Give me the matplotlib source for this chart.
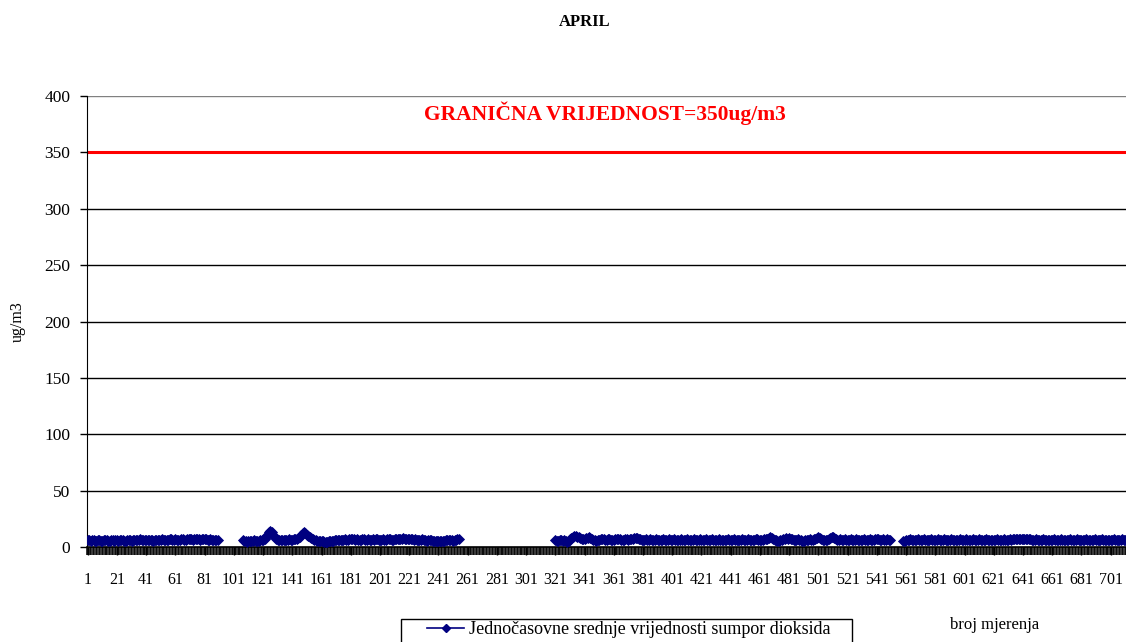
import numpy as np
import matplotlib
matplotlib.use("Agg")
import matplotlib.pyplot as plt
from matplotlib.patches import Rectangle

title = "APRIL"
limit_value = 350
limit_label = "GRANIČNA VRIJEDNOST=350ug/m3"
series_label = "Jednočasovne srednje vrijednosti sumpor dioksida"
y_label = "ug/m3"
x_label = "broj mjerenja"
y_ticks = [0, 50, 100, 150, 200, 250, 300, 350, 400]
x_tick_labels = list(range(1, 702, 20))

N = None
seg_1_90 = [6,6,5,6,6,5,5,6,6,5,5,6,6,6,5,5,6,6,5,6,
            6,5,6,6,6,5,5,6,6,6,5,6,6,6,6,6,7,6,6,6,
            6,6,6,6,6,5,6,6,6,6,6,7,6,6,6,6,7,7,6,6,
            7,6,6,6,7,7,6,6,7,7,7,7,6,7,7,7,7,6,7,7,
            7,7,6,6,7,6,6,6,6,6]
gap_91_106 = [N]*16
seg_107_255 = [6,5,5,4,5,5,5,5,6,5,5,5,6,6,
               6,7,9,11,13,14,13,11,9,7,6,6,6,6,6,6,6,6,7,6,
               6,7,7,7,8,9,11,12,13,12,11,10,9,8,7,6,6,5,5,5,
               5,5,4,4,4,5,5,5,5,6,6,6,6,6,6,6,7,6,6,7,
               7,7,7,6,7,6,6,6,7,7,6,6,7,6,6,7,6,7,7,6,
               6,6,7,6,6,7,7,7,6,6,7,7,7,7,7,7,8,7,7,7,
               7,7,7,6,7,6,6,6,6,7,6,6,5,6,6,6,5,5,5,5,
               5,5,5,5,5,6,6,6,6,6,5,6,6,7,7]
gap_256_320 = [N]*65
seg_321_550 = [6,5,5,6,6,5,6,5,4,5,7,8,9,10,10,9,9,8,7,7,
               7,8,8,9,8,7,6,6,5,6,6,7,7,7,6,6,7,7,6,6,
               6,7,7,7,7,6,6,6,7,7,6,7,7,7,8,8,8,7,7,6,
               6,6,7,6,6,7,6,6,6,7,6,6,6,6,7,6,6,6,7,6,
               6,7,6,6,6,6,7,6,6,6,7,6,6,6,6,7,6,6,6,7,
               6,6,6,7,6,6,6,7,6,6,6,6,7,6,6,6,6,6,7,6,
               6,6,7,6,6,6,6,6,7,6,6,6,7,6,6,6,6,7,7,6,
               6,6,6,7,7,7,8,9,8,7,6,6,5,5,6,6,7,7,8,7,
               8,7,7,6,6,6,7,6,6,5,5,6,6,6,7,6,6,7,7,8,
               9,8,7,6,6,6,6,7,8,9,9,8,7,6,6,7,6,6,7,6,
               6,6,7,6,6,6,7,6,6,6,6,7,6,6,6,7,6,6,6,7,
               7,7,6,6,7,6,6,7,6,6]
gap_551_558 = [N]*8
seg_559_720 = [5,5,6,6,6,7,6,6,6,6,7,6,6,6,7,6,6,6,6,7,6,6,
               6,6,7,6,6,6,7,6,6,6,6,7,6,6,6,6,6,7,6,6,
               6,7,6,6,6,6,7,6,6,6,7,6,6,6,6,7,6,6,6,6,
               6,6,7,6,6,6,6,7,6,6,6,7,6,7,7,7,7,7,7,7,
               7,7,7,7,7,7,6,6,6,7,6,6,6,6,7,6,6,6,6,6,
               6,7,6,6,6,6,7,6,6,6,6,6,7,6,6,6,6,7,6,6,
               6,6,6,7,6,6,6,6,6,7,6,6,6,6,7,6,6,6,6,6,
               6,6,7,6,6,6,6,6,7,6,6,6,7,6,6,6,6,7,6,6]

values = (seg_1_90 + gap_91_106 + seg_107_255 + gap_256_320 +
          seg_321_550 + gap_551_558 + seg_559_720)
y = np.array([np.nan if v is None else v for v in values], dtype=float)
x = np.arange(1, len(y) + 1)

serif = "Liberation Serif"
W, H = 1126, 642
fig = plt.figure(figsize=(W/100, H/100), dpi=100)
ax = fig.add_axes([87/W, (H-547)/H, (W-87)/W, 451/H])

ax.set_ylim(0, 400)
ax.set_xlim(0.5, 711.5)

for t in y_ticks[1:]:
    ax.axhline(t, color="#808080" if t == 400 else "black", lw=1, zorder=1)
ax.axhline(limit_value, color="#ff0000", lw=2.2, zorder=2)

ax.plot(x, y, color="#000080", lw=1.2, marker="D", markersize=5,
        markeredgewidth=0.6, zorder=3, clip_on=True)

for s in ["top", "right"]:
    ax.spines[s].set_visible(False)
ax.spines["left"].set_color("black")
ax.spines["bottom"].set_color("black")
ax.spines["bottom"].set_linewidth(1.2)

ax.set_yticks(y_ticks)
ax.set_yticklabels([str(t) for t in y_ticks], fontfamily=serif, fontsize=12.5)
ax.tick_params(axis="y", length=5, width=1, pad=7)

ax.set_xticks(x_tick_labels)
ax.set_xticklabels([str(t) for t in x_tick_labels], fontfamily=serif, fontsize=11.5)
ax.set_xticks(np.arange(0.5, 712, 1), minor=True)
ax.tick_params(axis="x", which="major", length=6, width=1, pad=12)
ax.tick_params(axis="x", which="minor", length=6, width=1.1)

ax.text(0.5 + (605-87)/1.461, 385, limit_label, color="#ff0000",
        fontfamily=serif, fontweight="bold", fontsize=15.5,
        ha="center", va="center")

fig.text(585/W, 1-22/H, title, fontfamily=serif, fontweight="bold",
         fontsize=12, ha="center", va="center")
fig.text(18/W, 1-322/H, y_label, fontfamily=serif, fontsize=11.5,
         rotation=90, ha="center", va="center")
fig.text(995/W, 1-625/H, x_label, fontfamily=serif, fontsize=12,
         ha="center", va="center")

fig.patches.append(Rectangle((401/W, -0.05), (852-401)/W, 0.05 + (H-619)/H,
                             transform=fig.transFigure, fill=False,
                             edgecolor="black", lw=1))
h, = ax.plot([], [], color="#000080", lw=1.2, marker="D", markersize=4)
fig.legend([h], [series_label], loc="center", bbox_to_anchor=(629/W, 1-630/H),
           frameon=False, prop={"family": serif, "size": 13},
           handlelength=2.0, handletextpad=0.3, borderpad=0)

fig.savefig("out.png", dpi=100)
